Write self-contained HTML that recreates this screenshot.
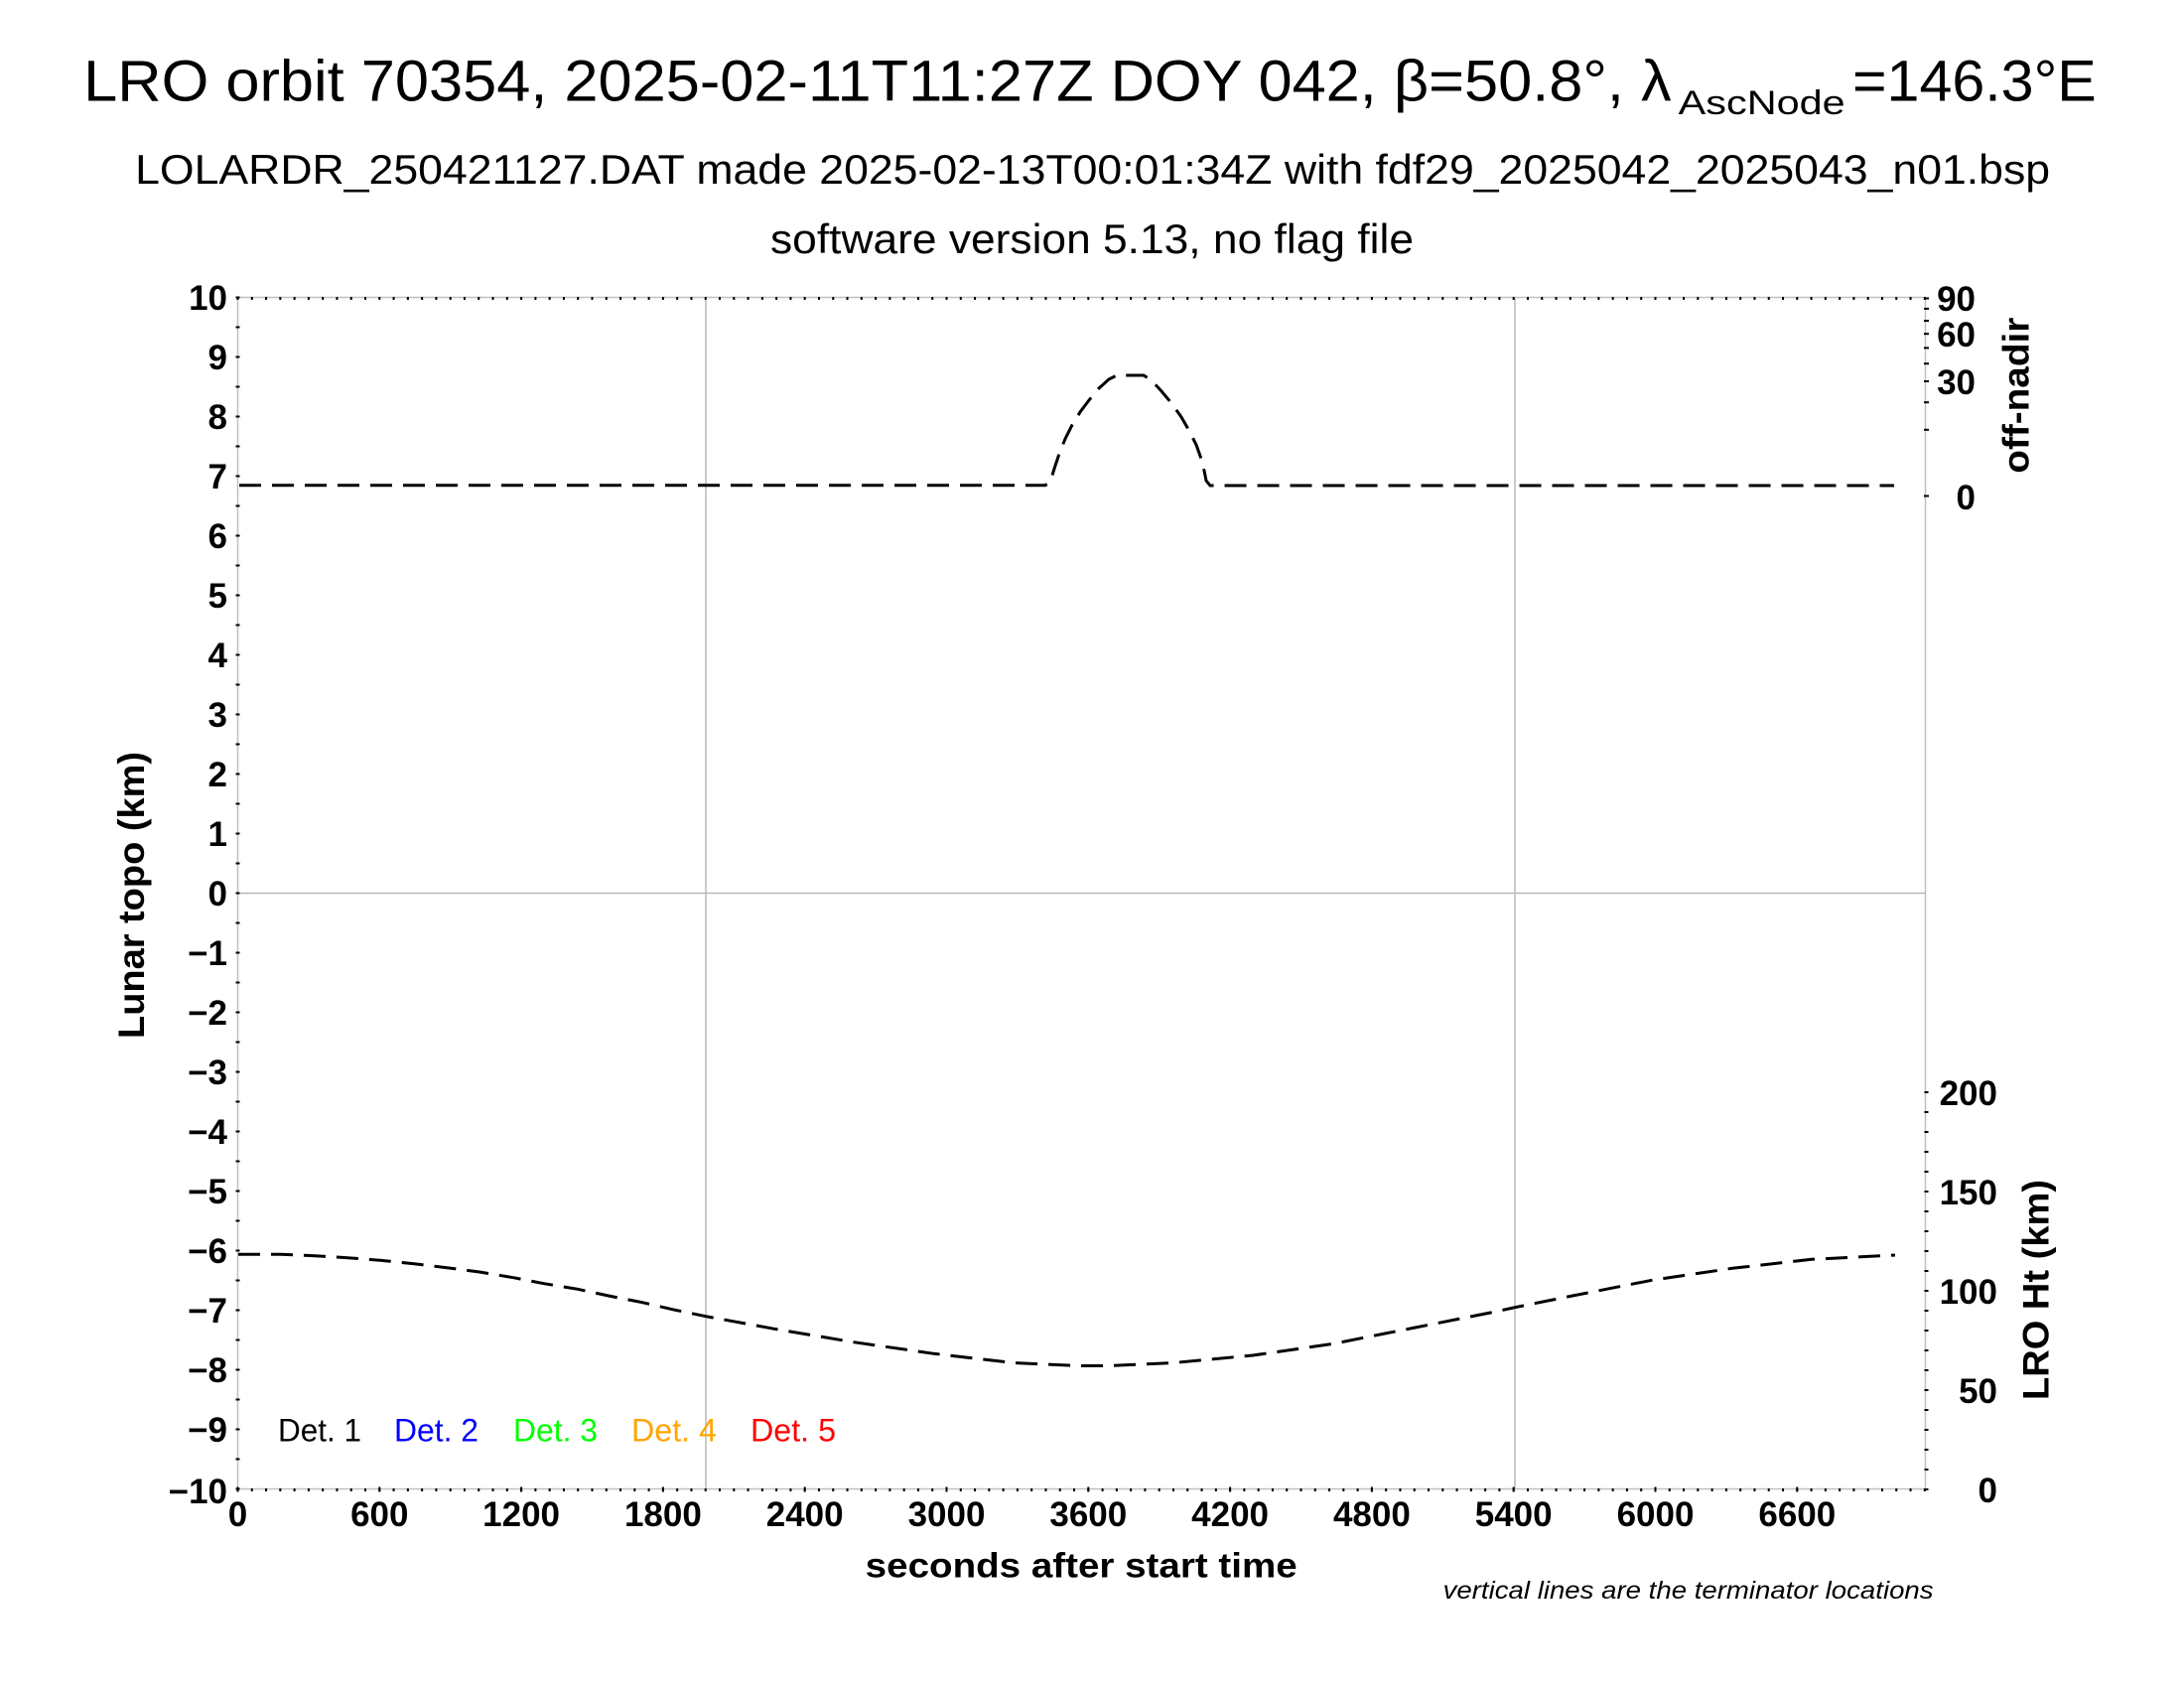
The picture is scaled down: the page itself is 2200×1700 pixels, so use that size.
<!DOCTYPE html>
<html>
<head>
<meta charset="utf-8">
<style>
  html, body { margin: 0; padding: 0; background: #ffffff; }
  svg { display: block; }
  text { font-family: "Liberation Sans", Arial, Helvetica, sans-serif; fill: #000; }
  .tl { font-size: 35px; font-weight: bold; }
  .ax { font-size: 37px; font-weight: bold; }
</style>
</head>
<body>
<svg width="2200" height="1700" viewBox="0 0 2200 1700" xmlns="http://www.w3.org/2000/svg">
  <rect x="0" y="0" width="2200" height="1700" fill="#ffffff"/>

  <!-- Titles -->
  <text x="84.2" y="101.7" font-size="58" textLength="1599.5" lengthAdjust="spacingAndGlyphs">LRO orbit 70354, 2025-02-11T11:27Z DOY 042, β=50.8°, λ</text>
  <text x="1690.7" y="115" font-size="34" textLength="168" lengthAdjust="spacingAndGlyphs">AscNode</text>
  <text x="1866" y="101.7" font-size="58" textLength="245.7" lengthAdjust="spacingAndGlyphs">=146.3°E</text>
  <text x="136.1" y="185" font-size="42" textLength="1929" lengthAdjust="spacingAndGlyphs">LOLARDR_250421127.DAT made 2025-02-13T00:01:34Z with fdf29_2025042_2025043_n01.bsp</text>
  <text x="776" y="255" font-size="42" textLength="648" lengthAdjust="spacingAndGlyphs">software version 5.13, no flag file</text>

  <!-- Grid lines -->
  <g stroke="#b8b8b8" stroke-width="1.5" fill="none">
    <line x1="711" y1="299.5" x2="711" y2="1499.5"/>
    <line x1="1526" y1="299.5" x2="1526" y2="1499.5"/>
    <line x1="239.5" y1="899.5" x2="1939.5" y2="899.5"/>
  </g>

  <!-- Axes frame -->
  <rect x="239.5" y="299.5" width="1700" height="1200" fill="none" stroke="#c0c0c0" stroke-width="1.5"/>

  <!-- Top & bottom ticks every 60 s (14.28 px) -->
  <g stroke="#000" fill="none">
    <line x1="238.5" y1="300.5" x2="1941" y2="300.5" stroke-width="3" stroke-dasharray="2 12.28"/>
    <line x1="238.5" y1="1500.5" x2="1941" y2="1500.5" stroke-width="3" stroke-dasharray="2 12.28"/>
    <!-- major bottom ticks slightly taller -->
    <line x1="238.5" y1="1500" x2="1941" y2="1500" stroke-width="5" stroke-dasharray="2 140.8"/>
    <!-- Left axis ticks every 0.5 km (30 px) -->
    <line x1="239.5" y1="298.5" x2="239.5" y2="1501" stroke-width="4" stroke-dasharray="2 28"/>
    <!-- Right axis Ht ticks every 10 km (20 px) -->
    <line x1="1940.5" y1="1099" x2="1940.5" y2="1501" stroke-width="4" stroke-dasharray="2 18"/>
    <!-- Right axis off-nadir ticks (sqrt scale) -->
    <g stroke-width="2">
      <line x1="1938" y1="499.5" x2="1943" y2="499.5"/>
      <line x1="1938" y1="432.8" x2="1943" y2="432.8"/>
      <line x1="1938" y1="405.2" x2="1943" y2="405.2"/>
      <line x1="1938" y1="384" x2="1943" y2="384"/>
      <line x1="1938" y1="366.2" x2="1943" y2="366.2"/>
      <line x1="1938" y1="350.4" x2="1943" y2="350.4"/>
      <line x1="1938" y1="336.2" x2="1943" y2="336.2"/>
      <line x1="1938" y1="323.1" x2="1943" y2="323.1"/>
      <line x1="1938" y1="310.9" x2="1943" y2="310.9"/>
      <line x1="1938" y1="300.5" x2="1943" y2="300.5"/>
    </g>
  </g>

  <!-- Left Y tick labels -->
  <g class="tl" text-anchor="end">
    <text x="229" y="312">10</text>
    <text x="229" y="372">9</text>
    <text x="229" y="432">8</text>
    <text x="229" y="492">7</text>
    <text x="229" y="552">6</text>
    <text x="229" y="612">5</text>
    <text x="229" y="672">4</text>
    <text x="229" y="732">3</text>
    <text x="229" y="792">2</text>
    <text x="229" y="852">1</text>
    <text x="229" y="912">0</text>
    <text x="229" y="972">−1</text>
    <text x="229" y="1032">−2</text>
    <text x="229" y="1092">−3</text>
    <text x="229" y="1152">−4</text>
    <text x="229" y="1212">−5</text>
    <text x="229" y="1272">−6</text>
    <text x="229" y="1332">−7</text>
    <text x="229" y="1392">−8</text>
    <text x="229" y="1452">−9</text>
    <text x="229" y="1514">−10</text>
  </g>

  <!-- X tick labels -->
  <g class="tl" text-anchor="middle">
    <text x="239.5" y="1537">0</text>
    <text x="382.3" y="1537">600</text>
    <text x="525.1" y="1537">1200</text>
    <text x="667.9" y="1537">1800</text>
    <text x="810.7" y="1537">2400</text>
    <text x="953.5" y="1537">3000</text>
    <text x="1096.3" y="1537">3600</text>
    <text x="1239.1" y="1537">4200</text>
    <text x="1381.9" y="1537">4800</text>
    <text x="1524.7" y="1537">5400</text>
    <text x="1667.5" y="1537">6000</text>
    <text x="1810.3" y="1537">6600</text>
  </g>

  <!-- Right tick labels: off-nadir -->
  <g class="tl" text-anchor="end">
    <text x="1990" y="313">90</text>
    <text x="1990" y="349">60</text>
    <text x="1990" y="397">30</text>
    <text x="1990" y="513">0</text>
  </g>
  <!-- Right tick labels: LRO Ht -->
  <g class="tl" text-anchor="end">
    <text x="2012" y="1113">200</text>
    <text x="2012" y="1213">150</text>
    <text x="2012" y="1313">100</text>
    <text x="2012" y="1413">50</text>
    <text x="2012" y="1513">0</text>
  </g>

  <!-- Axis titles -->
  <text class="ax" transform="translate(145,1046) rotate(-90)" textLength="289" lengthAdjust="spacingAndGlyphs">Lunar topo (km)</text>
  <text class="ax" transform="translate(2043.5,476.7) rotate(-90)" textLength="157" lengthAdjust="spacingAndGlyphs">off-nadir</text>
  <text class="ax" transform="translate(2063.5,1410) rotate(-90)" textLength="222" lengthAdjust="spacingAndGlyphs">LRO Ht (km)</text>
  <text x="871.7" y="1588.3" font-size="35" font-weight="bold" textLength="435" lengthAdjust="spacingAndGlyphs">seconds after start time</text>
  <text x="1453.6" y="1610" font-size="25" font-style="italic" textLength="494" lengthAdjust="spacingAndGlyphs">vertical lines are the terminator locations</text>

  <!-- Legend -->
  <g font-size="32">
    <text x="280" y="1451.7" fill="#000000" style="fill:#000000" textLength="84" lengthAdjust="spacingAndGlyphs">Det. 1</text>
    <text x="397" y="1451.7" style="fill:#0000ff" textLength="85" lengthAdjust="spacingAndGlyphs">Det. 2</text>
    <text x="517" y="1451.7" style="fill:#00ff00" textLength="85" lengthAdjust="spacingAndGlyphs">Det. 3</text>
    <text x="636" y="1451.7" style="fill:#ffa500" textLength="86" lengthAdjust="spacingAndGlyphs">Det. 4</text>
    <text x="756" y="1451.7" style="fill:#ff0000" textLength="86" lengthAdjust="spacingAndGlyphs">Det. 5</text>
  </g>

  <!-- Off-nadir curve -->
  <polyline fill="none" stroke="#000" stroke-width="3" stroke-dasharray="22 11"
    points="241,488.7 1053,488.7 1058,485 1062,472 1067,457 1073,442 1080,428 1088,415 1097,403 1107,391 1117,382 1125,378 1152,378 1160,383 1170,394 1180,406 1190,420 1198,434 1205,448 1210,462 1213,474 1215,484 1219,489 1908,489"/>

  <!-- LRO height curve -->
  <polyline fill="none" stroke="#000" stroke-width="3" stroke-dasharray="22 11"
    points="240,1263.3 283,1263.3 317,1264.7 350,1266.7 383,1269.3 417,1272.7 450,1276.7 483,1281 517,1286.7 548,1292.7 582,1298.3 613,1305 647,1311.7 680,1319.3 711,1325.7 780,1338.3 860,1351.7 941,1363.3 1021,1372.5 1086,1375.5 1118,1375.5 1182,1372.5 1262,1365 1343,1353.3 1423,1337.5 1503,1321.7 1526,1316.7 1584,1305 1664,1289.3 1745,1277.3 1825,1268.3 1909,1264"/>
</svg>
</body>
</html>
